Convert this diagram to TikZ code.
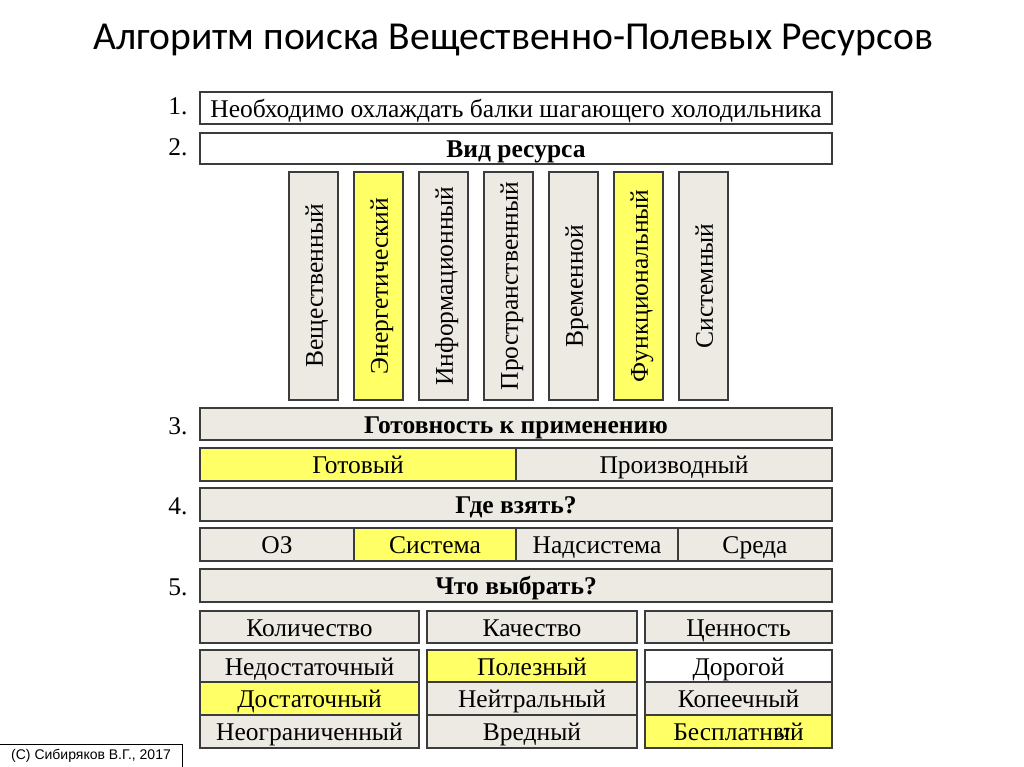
\documentclass[tikz,border=0pt]{standalone}
\usepackage{fontspec}
\setmainfont{Liberation Serif}
\newfontfamily\titlefont{Carlito}
\newfontfamily\copyfont{Liberation Sans}
\definecolor{cellgrey}{RGB}{236,234,227}
\definecolor{cellyellow}{RGB}{255,255,102}
\definecolor{edge}{RGB}{60,60,60}
\tikzset{
  cell/.style={draw=edge, line width=1.3pt, rectangle, inner sep=0pt, anchor=center,
    font=\fontsize{25.5}{27}\selectfont, text height=18.5pt, text depth=0pt},
  gcell/.style={cell, fill=cellgrey},
  ycell/.style={cell, fill=cellyellow},
  wcell/.style={cell, fill=white},
  vcell/.style={minimum width=49pt, minimum height=228pt},
  vtext/.style={rotate=90, font=\fontsize{25.5}{27}\selectfont, inner sep=0pt,
    text height=18.5pt, text depth=0pt},
  numlabel/.style={font=\fontsize{25.5}{27}\selectfont, inner sep=0pt,
    text height=17pt, text depth=0pt},
}
\begin{document}
\begin{tikzpicture}[x=1pt,y=-1pt]
\fill[white] (0,0) rectangle (1024,767);
\useasboundingbox (0,0) rectangle (1024,767);

\node[font=\titlefont\fontsize{39.6}{44}\selectfont, inner sep=0pt, anchor=base] (title) at (513,50) {Алгоритм поиска Вещественно-Полевых Ресурсов};

\node[numlabel] (n1) at (178,106) {1.};
\node[numlabel] (n2) at (178,147) {2.};
\node[numlabel] (n3) at (178,426) {3.};
\node[numlabel] (n4) at (178,506) {4.};
\node[numlabel] (n5) at (178,587) {5.};

\node[wcell, minimum width=632pt, minimum height=32pt] (r1) at (516,108) {Необходимо охлаждать балки шагающего холодильника};
\node[wcell, minimum width=632pt, minimum height=31pt] (r2) at (516,148.5) {\bfseries Вид ресурса};

\node[gcell, vcell] (v1) at (313.5,286) {};
\node[ycell, vcell] (v2) at (378.5,286) {};
\node[gcell, vcell] (v3) at (443.5,286) {};
\node[gcell, vcell] (v4) at (508.5,286) {};
\node[gcell, vcell] (v5) at (573.5,286) {};
\node[ycell, vcell] (v6) at (638.5,286) {};
\node[gcell, vcell] (v7) at (703.5,286) {};
\node[vtext] (t1) at (v1.center) {Вещественный};
\node[vtext] (t2) at (v2.center) {Энергетический};
\node[vtext] (t3) at (v3.center) {Информационный};
\node[vtext] (t4) at (v4.center) {Пространственный};
\node[vtext] (t5) at (v5.center) {Временной};
\node[vtext] (t6) at (v6.center) {Функциональный};
\node[vtext] (t7) at (v7.center) {Системный};

\node[gcell, minimum width=632pt, minimum height=32pt] (r3) at (516,424) {\bfseries Готовность к применению};
\node[ycell, minimum width=316pt, minimum height=33pt] (g1) at (358,464.5) {Готовый};
\node[gcell, minimum width=316pt, minimum height=33pt] (g2) at (674,464.5) {Производный};

\node[gcell, minimum width=632pt, minimum height=33pt] (r4) at (516,504.5) {\bfseries Где взять?};
\node[gcell, minimum width=154pt, minimum height=33pt] (w1) at (277,544.5) {ОЗ};
\node[ycell, minimum width=162pt, minimum height=33pt] (w2) at (435,544.5) {Система};
\node[gcell, minimum width=162pt, minimum height=33pt] (w3) at (597,544.5) {Надсистема};
\node[gcell, minimum width=154pt, minimum height=33pt] (w4) at (755,544.5) {Среда};

\node[gcell, minimum width=632pt, minimum height=33pt] (r5) at (516,585.5) {\bfseries Что выбрать?};
\node[gcell, minimum width=219pt, minimum height=32pt] (h1) at (309.5,627) {Количество};
\node[gcell, minimum width=210pt, minimum height=32pt] (h2) at (532,627) {Качество};
\node[gcell, minimum width=187pt, minimum height=32pt] (h3) at (738.5,627) {Ценность};

\node[gcell, minimum width=219pt, minimum height=32pt] (a1) at (309.5,666) {Недостаточный};
\node[ycell, minimum width=219pt, minimum height=33pt] (a2) at (309.5,698.5) {Достаточный};
\node[gcell, minimum width=219pt, minimum height=33pt] (a3) at (309.5,731.5) {Неограниченный};

\node[ycell, minimum width=210pt, minimum height=32pt] (b1) at (532,666) {Полезный};
\node[gcell, minimum width=210pt, minimum height=33pt] (b2) at (532,698.5) {Нейтральный};
\node[gcell, minimum width=210pt, minimum height=33pt] (b3) at (532,731.5) {Вредный};

\node[wcell, minimum width=187pt, minimum height=32pt] (c1) at (738.5,666) {Дорогой};
\node[gcell, minimum width=187pt, minimum height=33pt] (c2) at (738.5,698.5) {Копеечный};
\node[ycell, minimum width=187pt, minimum height=33pt] (c3) at (738.5,731.5) {Бесплатный};

\node[font=\fontsize{14}{14}\selectfont\bfseries, inner sep=0pt, text=black] (pnum) at (783,733) {37};

\coordinate (cpa) at (0,744);
\coordinate (cpb) at (182,744);
\coordinate (cpc) at (182,767);
\draw[line width=1pt, black] (cpa) -- (cpb) -- (cpc);
\node[font=\copyfont\fontsize{14}{15}\selectfont, inner sep=0pt] (copy) at (91,756) {(C) Сибиряков В.Г., 2017};
\end{tikzpicture}
\end{document}
